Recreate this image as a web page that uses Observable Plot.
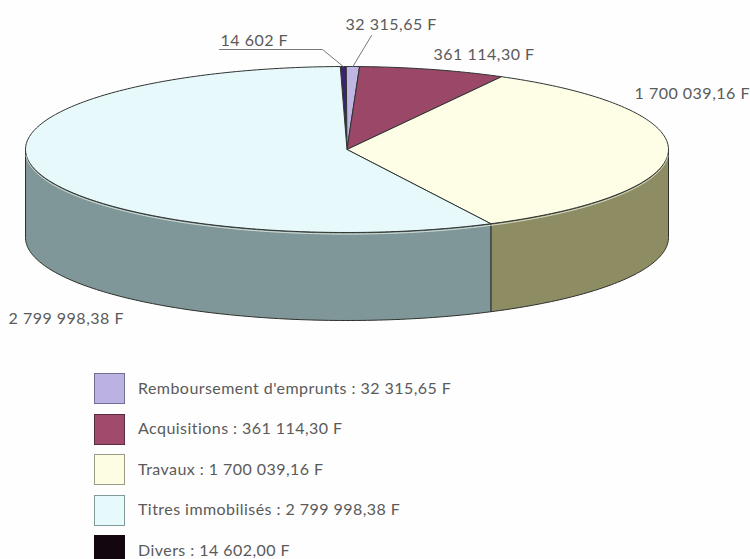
<!DOCTYPE html>
<html lang="fr">
<head>
<meta charset="utf-8">
<script src="https://cdn.jsdelivr.net/npm/d3@7"></script>
<script src="https://cdn.jsdelivr.net/npm/@observablehq/plot@0.6"></script>
<style>
  html,body{margin:0;padding:0;background:#fefefe;overflow:hidden;width:750px;height:559px}
  svg{display:block;background:transparent}
  #legend{position:absolute;left:94px;top:373px;font-family:Lato,sans-serif;font-size:16px;line-height:1;letter-spacing:.45px;color:#5a5a5a}
  .row{display:flex;align-items:center;height:31px;margin-bottom:9.5px;white-space:nowrap}
  .row span{position:relative;top:-1px}
  .sw{width:29px;height:29px;border:1px solid;margin-right:13px;flex:none}
  .lbl text{letter-spacing:.5px}
</style>
</head>
<body>
<div id="chart"></div>
<div id="legend"></div>
<script>
// ---- data (clockwise slice order, starting at the top of the pie)
const categories = ["Divers", "Remboursement d'emprunts", "Acquisitions", "Travaux", "Titres immobilisés"];
const values = [14602.00, 32315.65, 361114.30, 1700039.16, 2799998.38];
const sliceLabels = ["14 602 F", "32 315,65 F", "361 114,30 F", "1 700 039,16 F", "2 799 998,38 F"];
const legendValues = ["14 602,00 F", "32 315,65 F", "361 114,30 F", "1 700 039,16 F", "2 799 998,38 F"];
const legendOrder = [1, 2, 3, 4, 0];

// ---- styles and layout
const topColors = ["#3d2270", "#c0b6e4", "#9a4768", "#fefee6", "#e7f9fb"];
const sideColors = ["#222", "#777", "#5a2c40", "#8e8c63", "#7f9798"];
const swatchColors = ["#14060f", "#bcb2e2", "#a04a6c", "#fdfde4", "#e6fafb"];
const swatchBorders = ["#14060f", "#6f6f99", "#5a2c40", "#9a9a85", "#7f9a98"];
const labelX = [220, 345, 433, 634, 8];
const labelY = [40, 24, 54, 93, 318];
const cx = 346.5, cy = 149, rx = 321.5, ry = 83, depth = 88;
const startDeg = -1.2;
const width = 750, height = 360;

// ---- geometry derived from the values
const rad = d => d * Math.PI / 180;
const arcs = d3.pie().sort(null).startAngle(rad(startDeg)).endAngle(rad(startDeg + 360))(values);
const px = t => cx + rx * Math.sin(t);
const py = (t, dy = 0) => cy - ry * Math.cos(t) + dy;
const sampled = (a, b) => {
  const n = Math.max(2, Math.ceil((b - a) / rad(1)));
  return d3.range(n + 1).map(i => a + (b - a) * i / n);
};

const tops = arcs.map(a => {
  const pts = sampled(a.startAngle, a.endAngle).map(t => ({x: px(t), y: py(t)}));
  return [{x: cx, y: cy}, ...pts, {x: cx, y: cy}];
});

const sides = arcs.map(a => {
  const s = Math.max(a.startAngle, rad(90)), e = Math.min(a.endAngle, rad(270));
  if (e <= s) return null;
  const ts = sampled(s, e);
  const up = ts.map(t => ({x: px(t), y: py(t)}));
  const down = ts.slice().reverse().map(t => ({x: px(t), y: py(t, depth)}));
  return [...up, ...down, up[0]];
});

const highlight = sampled(rad(93), rad(267)).map(t => ({x: px(t), y: py(t, 1.6)}));

// leader lines: from the label to the rim of the slice
const rimAt = i => {
  const m = (arcs[i].startAngle + arcs[i].endAngle) / 2;
  return {x: px(m), y: py(m)};
};
const leaderA = [{x: 219, y: 49}, {x: 322, y: 49}, rimAt(0)];
const leaderB = [{x: 371, y: 35}, rimAt(1)];

const labelRows = sliceLabels.map((text, i) => ({text, x: labelX[i], y: labelY[i]}));

const marks = [];
sides.forEach((p, i) => {
  if (p) marks.push(Plot.line(p, {x: "x", y: "y", fill: sideColors[i], stroke: "#2d302c", strokeWidth: 1}));
});
tops.forEach((p, i) => {
  marks.push(Plot.line(p, {x: "x", y: "y", fill: topColors[i], stroke: "#2f3432", strokeWidth: 1, strokeLinejoin: "round"}));
});
marks.push(Plot.line(highlight, {x: "x", y: "y", stroke: "#eef3ea", strokeWidth: 1, strokeOpacity: 0.75}));
marks.push(Plot.line(leaderA, {x: "x", y: "y", stroke: "#777", strokeWidth: 1}));
marks.push(Plot.line(leaderB, {x: "x", y: "y", stroke: "#777", strokeWidth: 1}));
marks.push(Plot.text(labelRows, {
  x: "x", y: "y", text: "text", textAnchor: "start", fontSize: 16,
  fontFamily: "Lato, sans-serif", fill: "#5a5a5a", className: "lbl"
}));

const chart = Plot.plot({
  width, height,
  margin: 0,
  x: {domain: [0, width], range: [0, width], axis: null},
  y: {domain: [0, height], range: [0, height], axis: null},
  style: {background: "transparent"},
  marks
});
document.getElementById("chart").append(chart);

// ---- legend
const legend = d3.select("#legend");
legendOrder.forEach(i => {
  const row = legend.append("div").attr("class", "row");
  row.append("div").attr("class", "sw")
    .style("background", swatchColors[i]).style("border-color", swatchBorders[i]);
  row.append("span").text(`${categories[i]} : ${legendValues[i]}`);
});
</script>
</body>
</html>
